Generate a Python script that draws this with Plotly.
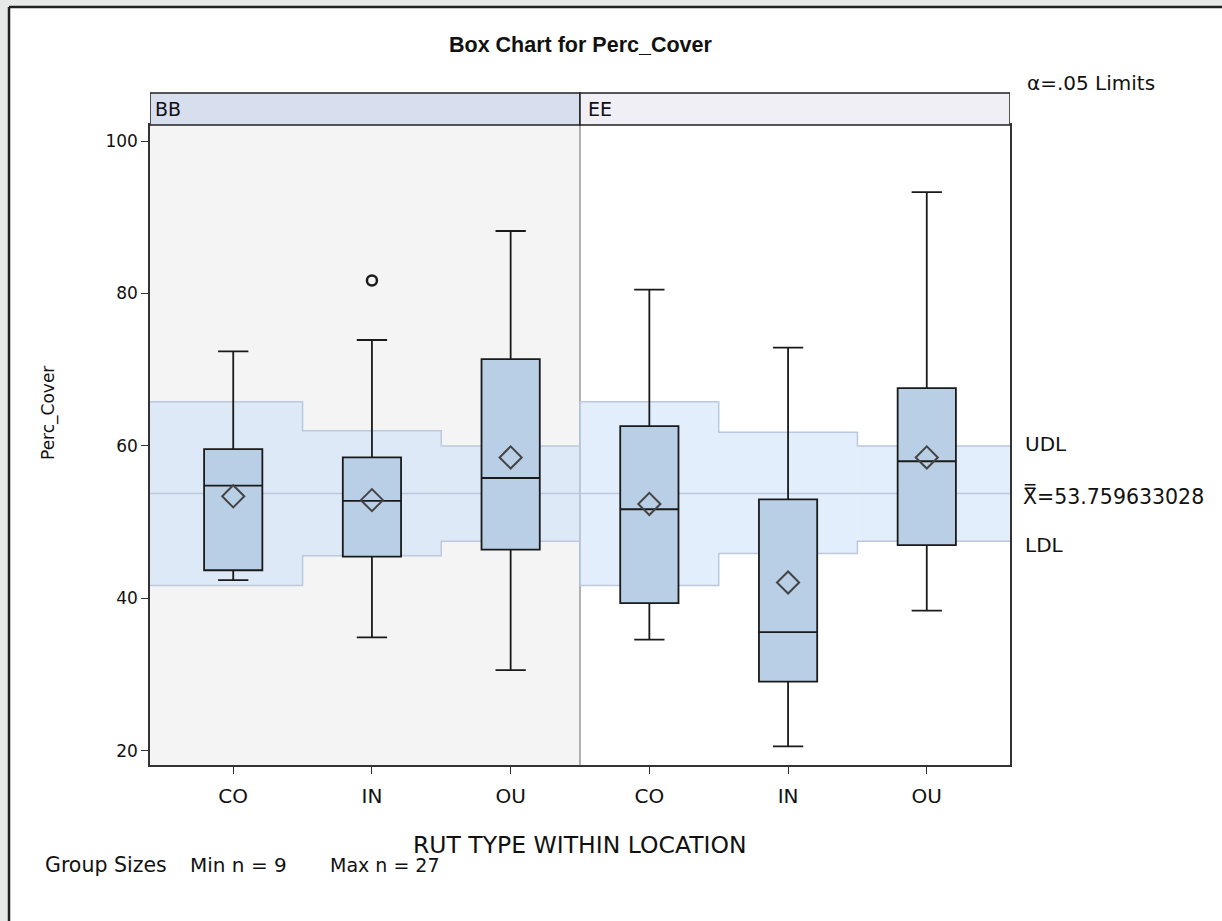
import plotly.graph_objects as go

# ---- data ----
locations = ["BB", "BB", "BB", "EE", "EE", "EE"]
rut_types = ["CO", "IN", "OU", "CO", "IN", "OU"]
q1 = [43.7, 45.5, 46.4, 39.4, 29.1, 47.0]
median = [54.8, 52.8, 55.8, 51.7, 35.6, 58.0]
q3 = [59.6, 58.5, 71.4, 62.6, 53.0, 67.6]
lower_whisker = [42.4, 34.9, 30.6, 34.6, 20.6, 38.4]
upper_whisker = [72.4, 73.9, 88.2, 80.5, 72.9, 93.3]
means = [53.4, 52.9, 58.5, 52.4, 42.1, 58.5]
outlier_group = [1]
outlier_values = [81.7]
center_line = 53.759633028
udl = [65.8, 62.0, 60.0, 65.8, 61.8, 60.0]
ldl = [41.7, 45.6, 47.5, 41.7, 45.9, 47.5]
y_ticks = [20, 40, 60, 80, 100]
n_min, n_max = 9, 27

# ---- layout geometry ----
W, H = 1222, 921
ML, MR, MT, MB = 150, 212, 125, 156
PW, PH = W - ML - MR, H - MT - MB
XR = [-0.6, 5.6]
YR = [18.16, 102.10]
FONT = "DejaVu Sans, Verdana, sans-serif"
TFONT = "Liberation Sans, Arial, sans-serif"
BAND_LINE = "#bcc8dd"


def px_x(px):
    return (px - ML) / PW


def px_y(py):
    return (H - MB - py) / PH


xs = list(range(len(rut_types)))
fig = go.Figure()

# boxes
fig.add_trace(go.Box(x=xs, q1=q1, median=median, q3=q3,
                     lowerfence=lower_whisker, upperfence=upper_whisker,
                     width=0.42, whiskerwidth=0.52, boxpoints=False,
                     fillcolor="#b9cfe6", line=dict(color="#1a1a1a", width=1.8),
                     hoverinfo="skip", showlegend=False))

# means
fig.add_trace(go.Scatter(x=xs, y=means, mode="markers",
                         marker=dict(symbol="diamond-open", size=17, color="#444444",
                                     line=dict(width=2, color="#444444")),
                         hoverinfo="skip", showlegend=False))
# outliers
fig.add_trace(go.Scatter(x=outlier_group, y=outlier_values, mode="markers",
                         marker=dict(symbol="circle-open", size=10, color="#1a1a1a",
                                     line=dict(width=2.5, color="#1a1a1a")),
                         hoverinfo="skip", showlegend=False))

shapes = [
    # BB panel background
    dict(type="rect", xref="x", yref="paper", x0=XR[0], x1=2.5, y0=0, y1=1,
         fillcolor="#f4f4f4", line=dict(width=0), layer="below"),
]

# control-limit band, step per group
edges = [XR[0]] + [i + 0.5 for i in xs[:-1]] + [XR[1]]
for i in xs:
    shapes.append(dict(type="rect", xref="x", yref="y", x0=edges[i], x1=edges[i + 1],
                       y0=ldl[i], y1=udl[i], fillcolor="rgba(200,222,250,0.5)",
                       line=dict(width=0), layer="below"))


def step_path(vals):
    p = "M %s,%s" % (edges[0], vals[0])
    for i in xs:
        p += " L %s,%s L %s,%s" % (edges[i], vals[i], edges[i + 1], vals[i])
    return p


for vals in (udl, ldl):
    shapes.append(dict(type="path", xref="x", yref="y", path=step_path(vals),
                       line=dict(color=BAND_LINE, width=1.5), layer="below"))
shapes.append(dict(type="line", xref="x", yref="y", x0=XR[0], x1=XR[1], y0=center_line,
                   y1=center_line, line=dict(color=BAND_LINE, width=1.5), layer="below"))

shapes += [
    # divider
    dict(type="line", xref="x", yref="paper", x0=2.5, x1=2.5, y0=0, y1=1,
         line=dict(color="#999999", width=1.5), layer="below"),
    # strips
    dict(type="rect", xref="x", yref="paper", x0=XR[0], x1=2.5, y0=1, y1=1 + 32 / PH,
         fillcolor="#d7dfee", line=dict(color="#222222", width=1.5)),
    dict(type="rect", xref="x", yref="paper", x0=2.5, x1=XR[1], y0=1, y1=1 + 32 / PH,
         fillcolor="#efeff5", line=dict(color="#222222", width=1.5)),
    # window frame
    dict(type="rect", xref="paper", yref="paper", x0=px_x(0), x1=px_x(W + 5), y0=px_y(0), y1=px_y(6),
         fillcolor="#e6e9e8", line=dict(width=0)),
    dict(type="rect", xref="paper", yref="paper", x0=px_x(0), x1=px_x(8), y0=px_y(H + 5), y1=px_y(0),
         fillcolor="#e6e9e8", line=dict(width=0)),
    dict(type="line", xref="paper", yref="paper", x0=px_x(9), x1=px_x(W + 5), y0=px_y(7), y1=px_y(7),
         line=dict(color="#222222", width=2.5)),
    dict(type="line", xref="paper", yref="paper", x0=px_x(9), x1=px_x(9), y0=px_y(7), y1=px_y(H + 5),
         line=dict(color="#222222", width=2.5)),
]

ann = [
    dict(text="<b>Box Chart for Perc_Cover</b>", x=0.5, y=px_y(45),
         font=dict(size=21.5, family=TFONT)),
    dict(text="α=.05 Limits", x=px_x(1025), y=px_y(83), xanchor="left", font=dict(size=20)),
    dict(text="BB", x=px_x(153), y=px_y(109), xanchor="left", font=dict(size=19)),
    dict(text="EE", x=px_x(586), y=px_y(109), xanchor="left", font=dict(size=19)),
    dict(text="UDL", x=px_x(1023), yref="y", y=udl[-1] + 0.3, xanchor="left", font=dict(size=20)),
    dict(text="X\u033f=%.9f" % center_line, x=px_x(1021), yref="y", y=center_line - 0.4,
         xanchor="left", font=dict(size=20.5)),
    dict(text="LDL", x=px_x(1023), yref="y", y=ldl[-1] - 0.5, xanchor="left", font=dict(size=20)),
    dict(text="RUT TYPE WITHIN LOCATION", x=0.5, y=px_y(845), font=dict(size=23.5)),
    dict(text="Perc_Cover", x=px_x(48), y=px_y(413), textangle=-90, font=dict(size=17)),
    dict(text="Group Sizes", x=px_x(43), y=px_y(865), xanchor="left", font=dict(size=20.5)),
    dict(text="Min n = %d" % n_min, x=px_x(188), y=px_y(865), xanchor="left", font=dict(size=20)),
    dict(text="Max n = %d" % n_max, x=px_x(328), y=px_y(865), xanchor="left", font=dict(size=19)),
]
for a in ann:
    a.setdefault("xref", "paper")
    a.setdefault("yref", "paper")
    a.setdefault("xanchor", "center")
    a["yanchor"] = "middle"
    a["showarrow"] = False
    a["font"].setdefault("family", FONT)
    a["font"]["color"] = "#111111"

fig.update_layout(
    width=W, height=H,
    margin=dict(l=ML, r=MR, t=MT, b=MB, autoexpand=False),
    paper_bgcolor="white", plot_bgcolor="white",
    font=dict(family=FONT, color="#111111", size=17),
    shapes=shapes, annotations=ann, showlegend=False,
    xaxis=dict(range=XR, tickvals=xs, ticktext=rut_types, ticks="outside", ticklen=7,
               ticklabelstandoff=5,
               tickcolor="#333333", showgrid=False, zeroline=False, showline=True,
               linecolor="#333333", linewidth=1.5, mirror=True, tickfont=dict(size=20)),
    yaxis=dict(range=YR, tickvals=y_ticks, ticks="outside", ticklen=7,
               tickcolor="#333333", showgrid=False, zeroline=False, showline=True,
               linecolor="#333333", linewidth=1.5, mirror=True, tickfont=dict(size=17)),
)

fig.write_html("out.html")
